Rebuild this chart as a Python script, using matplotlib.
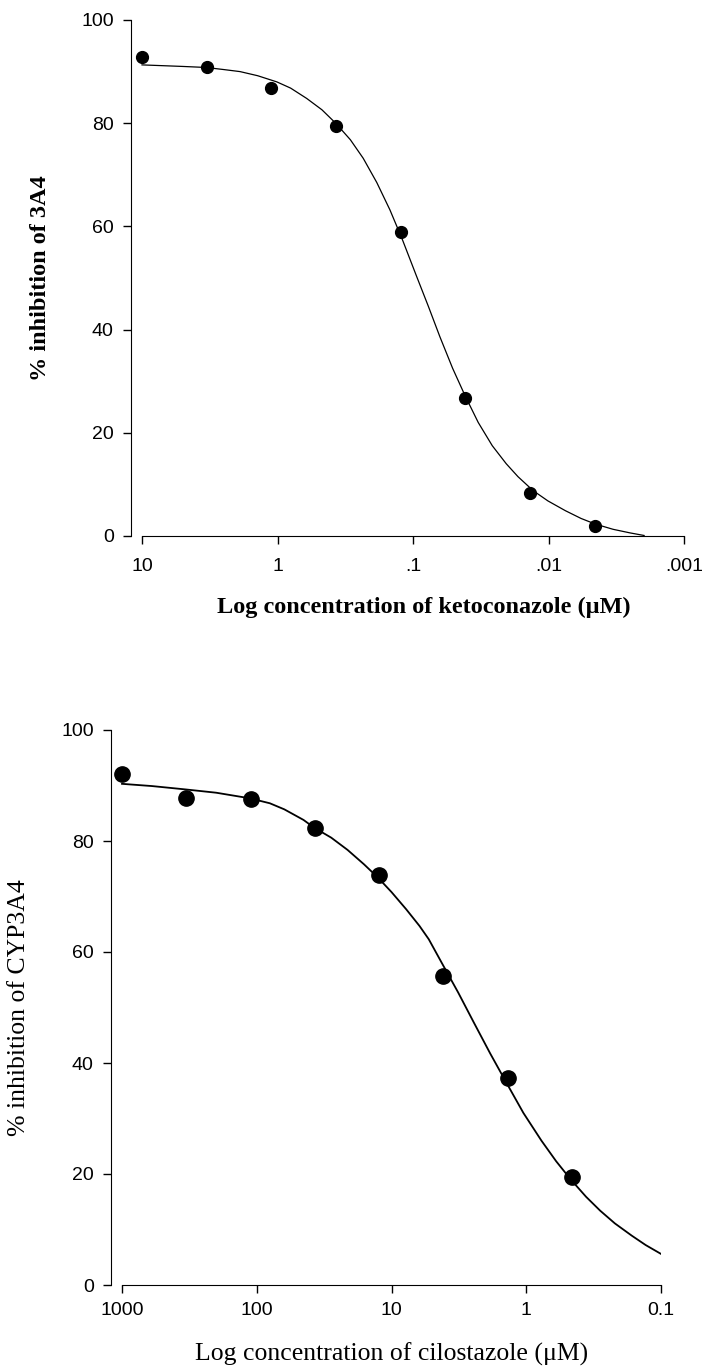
"""
Two CYP3A4 inhibition curves (ketoconazole, cilostazol) on reversed log axes.
Saves out.png
"""

import matplotlib
matplotlib.use("Agg")
import matplotlib.pyplot as plt
from matplotlib.ticker import FixedLocator, FixedFormatter, NullLocator

# --- ketoconazole (top panel) ---
keto_conc = [10, 3.33, 1.11, 0.370, 0.123, 0.0412, 0.0137, 0.00457]
keto_inh = [92.8, 90.9, 86.8, 79.4, 59.0, 26.7, 8.3, 2.0]
# fitted curve
keto_fit_conc = [10, 5, 3.37, 2.5, 1.89, 1.4, 1.01, 0.8, 0.609, 0.47, 0.372,
                 0.29, 0.233, 0.185, 0.148, 0.12, 0.094, 0.077, 0.0633,
                 0.051, 0.0413, 0.033, 0.026, 0.0205, 0.0168, 0.013, 0.0101,
                 0.0075, 0.00575, 0.0045, 0.00334, 0.0025, 0.00197]
keto_fit_inh = [91.3, 91.0, 90.8, 90.4, 90.0, 89.2, 88.0, 86.8, 84.8, 82.6,
                80.0, 76.8, 73.2, 68.5, 63.2, 57.5, 50.3, 44.5, 38.6, 32.5,
                27.2, 22.0, 17.5, 14.0, 11.5, 8.8, 6.8, 4.9, 3.4, 2.3, 1.3,
                0.6, 0.1]
keto_ticks = [10, 1, 0.1, 0.01, 0.001]
keto_ticklabels = ["10", "1", ".1", ".01", ".001"]

# --- cilostazol (bottom panel) ---
cilo_conc = [1000, 333, 111, 37.0, 12.3, 4.12, 1.37, 0.457]
cilo_inh = [92.1, 87.7, 87.6, 82.3, 73.9, 55.6, 37.3, 19.4]
cilo_fit_conc = [1000, 600, 340, 200, 113, 80, 62.4, 45, 37.5, 28, 21.2, 16,
                 12.6, 10, 7.78, 6.2, 5.29, 4.14, 3.2, 2.45, 1.85, 1.40, 1.05,
                 0.771, 0.6, 0.467, 0.36, 0.283, 0.22, 0.165, 0.13, 0.1]
cilo_fit_inh = [90.3, 89.9, 89.3, 88.7, 87.7, 86.8, 85.7, 83.8, 82.4, 80.6,
                78.4, 75.8, 73.4, 70.8, 67.7, 64.7, 62.3, 57.6, 52.7, 47.3,
                41.7, 36.4, 31.0, 26.0, 22.3, 19.0, 15.9, 13.4, 11.1, 8.9,
                7.2, 5.6]
cilo_ticks = [1000, 100, 10, 1, 0.1]
cilo_ticklabels = ["1000", "100", "10", "1", "0.1"]

y_ticks = [0, 20, 40, 60, 80, 100]

W, H = 707, 1371
fig = plt.figure(figsize=(W / 100, H / 100), dpi=100)


def style_axes(ax, ticks, ticklabels, left_pad, xpad, ypad):
    ax.set_xscale("log")
    ax.set_xlim(ticks[0] * left_pad, ticks[-1])
    ax.set_ylim(0, 100)
    ax.spines["top"].set_visible(False)
    ax.spines["right"].set_visible(False)
    ax.spines["bottom"].set_bounds(ticks[-1], ticks[0])
    ax.xaxis.set_major_locator(FixedLocator(ticks))
    ax.xaxis.set_major_formatter(FixedFormatter(ticklabels))
    ax.xaxis.set_minor_locator(NullLocator())
    ax.set_yticks(y_ticks)
    ax.tick_params(direction="out", length=5.5, width=1.0, labelsize=14)
    ax.tick_params(axis="x", pad=xpad)
    ax.tick_params(axis="y", pad=ypad)
    for lab in ax.get_xticklabels() + ax.get_yticklabels():
        lab.set_fontfamily("Liberation Sans")


# top panel
ax1 = fig.add_axes([131 / W, 1 - 536 / H, (684 - 131) / W, (536 - 20) / H])
ax1.plot(keto_fit_conc, keto_fit_inh, color="black", linewidth=0.9)
ax1.plot(keto_conc, keto_inh, "o", color="black", markersize=8.5)
style_axes(ax1, keto_ticks, keto_ticklabels, 10 ** (11 / 135.5), 10, 7)
ax1.set_ylabel("% inhibition of 3A4", fontsize=17.5, fontweight="bold",
               fontfamily="Liberation Serif")
ax1.yaxis.set_label_coords(-0.145, 0.5)
ax1.set_xlabel("Log concentration of ketoconazole (\u03bcM)", fontsize=17.5,
               fontweight="bold", fontfamily="Liberation Serif")
ax1.xaxis.set_label_coords(0.53, -0.118)

# bottom panel
ax2 = fig.add_axes([111 / W, 1 - 1285 / H, (661 - 111) / W, (1285 - 730) / H])
ax2.plot(cilo_fit_conc, cilo_fit_inh, color="black", linewidth=1.3)
ax2.plot(cilo_conc, cilo_inh, "o", color="black", markersize=11)
style_axes(ax2, cilo_ticks, cilo_ticklabels, 10 ** (11 / 134.75), 7, 7)
ax2.set_ylabel("% inhibition of CYP3A4", fontsize=18.5,
               fontfamily="Liberation Serif")
ax2.yaxis.set_label_coords(-0.147, 0.5)
ax2.set_xlabel("Log concentration of cilostazole (\u03bcM)", fontsize=18.5,
               fontfamily="Liberation Serif")
ax2.xaxis.set_label_coords(0.511, -0.103)

fig.savefig("out.png", dpi=100)
plt.close(fig)
